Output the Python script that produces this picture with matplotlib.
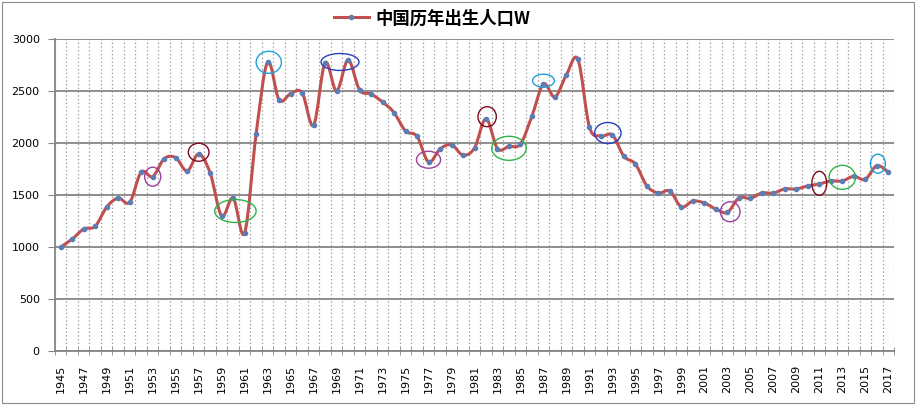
import numpy as np
import matplotlib
matplotlib.use("Agg")
import matplotlib.pyplot as plt
from matplotlib.path import Path
from matplotlib.patches import PathPatch, Ellipse, Rectangle
from matplotlib.lines import Line2D

plt.rcParams['font.family'] = ['DejaVu Sans', 'Noto Sans CJK SC']

# data: births per year (10k persons)
years = list(range(1945, 2018))
births = [1000, 1077, 1173, 1199, 1385, 1471, 1430, 1721, 1676, 1849,
          1859, 1731, 1894, 1712, 1298, 1471, 1135, 2087, 2779, 2413,
          2474, 2484, 2170, 2772, 2500, 2798, 2510, 2471, 2394, 2292,
          2115, 2064, 1817, 1942, 1984, 1883, 1952, 2234, 1946, 1968,
          1990, 2260, 2567, 2442, 2657, 2804, 2154, 2067, 2077, 1872,
          1798, 1587, 1519, 1538, 1385, 1442, 1423, 1365, 1333, 1471,
          1468, 1519, 1519, 1558, 1558, 1587, 1606, 1635, 1635, 1680,
          1651, 1782, 1721]
series_name = '中国历年出生人口W'

# highlight ellipses: (year, value, width in years, height in value, colour)
marks = [
    (1953.0, 1676, 1.4, 183, '#9b3f9f'),
    (1957.0, 1911, 1.8, 173, '#7f0a1e'),
    (1960.2, 1346, 3.6, 221, '#2db34a'),
    (1963.1, 2776, 2.2, 212, '#1ea0dc'),
    (1969.3, 2779, 3.3, 163, '#2a3fc0'),
    (1977.0, 1839, 2.1, 163, '#9b3f9f'),
    (1982.1, 2253, 1.6, 192, '#7f0a1e'),
    (1984.0, 1949, 3.0, 231, '#2db34a'),
    (1987.0, 2599, 1.9, 125, '#1ea0dc'),
    (1992.6, 2096, 2.3, 202, '#2a3fc0'),
    (2003.25, 1339, 1.7, 192, '#9b3f9f'),
    (2011.0, 1612, 1.3, 231, '#7f0a1e'),
    (2013.0, 1670, 2.3, 231, '#2db34a'),
    (2016.1, 1801, 1.3, 183, '#1ea0dc'),
]

line_color = '#c0504d'
marker_color = '#5b7db5'
grid_color = '#868686'


def smooth_path(x, y, t=1/6.):
    # excel-like smoothed line as cubic bezier segments
    x = np.asarray(x, float); y = np.asarray(y, float)
    n = len(x)
    verts = [(x[0], y[0])]; codes = [Path.MOVETO]
    for i in range(n - 1):
        p0 = i - 1 if i > 0 else i
        p3 = i + 2 if i + 2 < n else i + 1
        c1 = (x[i] + (x[i+1] - x[p0]) * t, y[i] + (y[i+1] - y[p0]) * t)
        c2 = (x[i+1] - (x[p3] - x[i]) * t, y[i+1] - (y[p3] - y[i]) * t)
        verts += [c1, c2, (x[i+1], y[i+1])]
        codes += [Path.CURVE4] * 3
    return Path(verts, codes)


fig = plt.figure(figsize=(9.16, 4.05), dpi=100)
# chart area border
fig.patches.append(Rectangle((1.5/916, 2.5/405), 912/916, 401/405, transform=fig.transFigure,
                             fill=False, ec='#8c8c8c', lw=0.8))
ax = fig.add_axes([55/916, 1 - 351/405, 839/916, 312/405])

ax.set_xlim(years[0] - 0.5, years[-1] + 0.5)
ax.set_ylim(0, 3000)

# grid
ax.set_yticks(range(0, 3001, 500))
ax.yaxis.grid(True, color=grid_color, lw=1.3)
bounds = np.arange(years[0] - 0.5, years[-1] + 1.0, 1.0)
ax.set_xticks(bounds, minor=True)
ax.xaxis.grid(True, which='minor', color='#959595', lw=0.9, ls=(0, (1, 2)))
ax.set_xticks(years[::2])
ax.set_xticklabels([str(v) for v in years[::2]], rotation=90, fontsize=8)
ax.tick_params(axis='x', which='major', length=0, pad=10)
ax.tick_params(axis='x', which='minor', length=6, direction='inout', color=grid_color)
ax.tick_params(axis='y', length=5, color=grid_color, labelsize=8, pad=6)
ax.set_axisbelow(True)
for s in ['top', 'right']:
    ax.spines[s].set_visible(False)
for s in ['left', 'bottom']:
    ax.spines[s].set_color(grid_color); ax.spines[s].set_linewidth(1.3)

# smoothed line + markers
ax.add_patch(PathPatch(smooth_path(years, births), fill=False,
                       ec=line_color, lw=2.2, capstyle='round', joinstyle='round', zorder=3))
ax.plot(years, births, ls='none', marker='o', ms=3, mfc=marker_color,
        mec=marker_color, zorder=4)

for cx, cy, w, h, c in marks:
    ax.add_patch(Ellipse((cx, cy), w, h, fill=False, ec=c, lw=1.0, zorder=5))

handle = Line2D([], [], color=line_color, lw=2.2, marker='o', ms=3,
                mfc=marker_color, mec=marker_color)
fig.legend([handle], [series_name], loc='center', bbox_to_anchor=(0.472, 0.955),
           frameon=False, handlelength=2.0, handletextpad=0.4,
           prop={'family': ['Noto Sans CJK SC'], 'weight': 'bold', 'size': 12.5})

fig.savefig('out.png', dpi=100)
